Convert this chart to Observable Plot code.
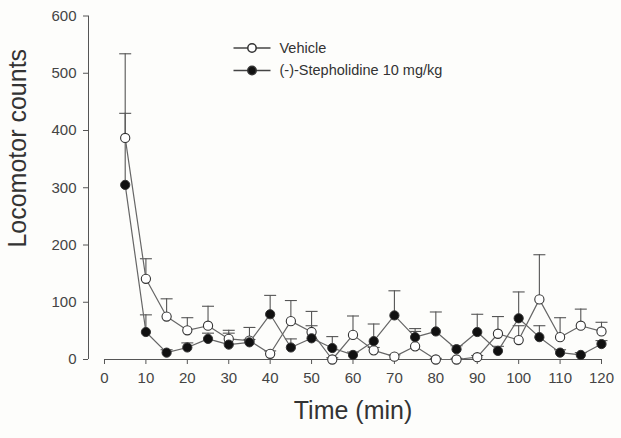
<!DOCTYPE html>
<html><head><meta charset="utf-8">
<script src="https://cdn.jsdelivr.net/npm/d3@7"></script>
<script src="https://cdn.jsdelivr.net/npm/@observablehq/plot@0.6"></script>
<style>body{margin:0;background:#fdfdfb;} #chart svg{display:block;}</style>
</head><body><div id="chart"></div>
<script>
const time = [5,10,15,20,25,30,35,40,45,50,55,60,65,70,75,80,85,90,95,100,105,110,115,120];
const vehicle = [387,141,75,51,59,36,33,10,67,48,0,43,16,5,23,0,0,4,45,34,105,39,59,49];
const vehicleSem = [147,35,31,22,34,15,23,5,36,36,3,33,5,3,26,2,2,3,30,25,78,34,29,16];
const stepholidine = [305,48,12,21,36,26,30,79,21,37,20,8,32,77,39,49,18,48,15,72,39,12,8,27];
const stepholidineSem = [125,30,5,8,10,20,5,33,15,22,20,5,30,43,15,34,6,31,8,46,20,5,4,6];
const seriesNames = ["Vehicle", "(-)-Stepholidine 10 mg/kg"];
const xTicks = [0,10,20,30,40,50,60,70,80,90,100,110,120];
const yTicks = [0,100,200,300,400,500,600];
const xStart = -3.86;

const vRows = time.map((t,i)=>({t, v: vehicle[i], s: vehicleSem[i]}));
const sRows = time.map((t,i)=>({t, v: stepholidine[i], s: stepholidineSem[i]}));
const hline = w => ({draw(ctx){ ctx.moveTo(-w,0); ctx.lineTo(w,0); }});

const lineColor = "#666";
const errColor = "#555";
const mk = rows => [
  Plot.ruleX(rows, {x: "t", y1: "v", y2: d => d.v + d.s, stroke: errColor, strokeWidth: 1.1}),
  Plot.dot(rows, {x: "t", y: d => d.v + d.s, symbol: hline(6), stroke: errColor, strokeWidth: 1.1, fill: "none", r: 5})
];

const chart = Plot.plot({
  width: 621, height: 438,
  marginLeft: 88, marginRight: 20, marginTop: 15.5, marginBottom: 79,
  style: {fontFamily: "'Liberation Sans', Arial, sans-serif", background: "transparent"},
  x: {domain: [xStart, 120]},
  y: {domain: [0, 600]},
  marks: [
    Plot.axisY({ticks: yTicks, tickSize: 5, tickPadding: 7, fontSize: 15, label: null, stroke: "#555", fill: "#444"}),
    Plot.ruleX([xStart], {y1: 0, y2: 600, stroke: "#555"}),
    Plot.axisX({ticks: xTicks, tickSize: 5, tickPadding: 8, fontSize: 15, label: null, stroke: "#555", fill: "#444"}),
    Plot.ruleY([0], {x1: 0, x2: 120, stroke: "#555"}),
    Plot.text(["Time (min)"], {frameAnchor: "bottom", lineAnchor: "middle", dx: 8, dy: 51, fontSize: 25, fill: "#333"}),
    Plot.text(["Locomotor counts"], {frameAnchor: "left", textAnchor: "middle", lineAnchor: "middle", rotate: -90, dx: -71, dy: -39.5, fontSize: 25, fill: "#333"}),
    ...mk(vRows), ...mk(sRows),
    Plot.line(vRows, {x: "t", y: "v", stroke: lineColor, strokeWidth: 1.2}),
    Plot.line(sRows, {x: "t", y: "v", stroke: lineColor, strokeWidth: 1.2}),
    Plot.dot(vRows, {x: "t", y: "v", r: 4.6, fill: "white", stroke: "#333", strokeWidth: 1.1}),
    Plot.dot(sRows, {x: "t", y: "v", r: 4.6, fill: "#111", stroke: "#333", strokeWidth: 1}),
    // legend
    Plot.dot([seriesNames[0]], {frameAnchor: "top-left", dx: 163.5, dy: 32, symbol: hline(18.5), stroke: "#444", fill: "none"}),
    Plot.dot([seriesNames[0]], {frameAnchor: "top-left", dx: 163.5, dy: 32, r: 4.2, fill: "white", stroke: "#333"}),
    Plot.text([seriesNames[0]], {frameAnchor: "top-left", dx: 191, dy: 32, textAnchor: "start", lineAnchor: "middle", fontSize: 14.5, fill: "#333"}),
    Plot.dot([seriesNames[1]], {frameAnchor: "top-left", dx: 163.5, dy: 54.5, symbol: hline(18.5), stroke: "#444", fill: "none"}),
    Plot.dot([seriesNames[1]], {frameAnchor: "top-left", dx: 163.5, dy: 54.5, r: 4.2, fill: "#111", stroke: "#333"}),
    Plot.text([seriesNames[1]], {frameAnchor: "top-left", dx: 191, dy: 54.5, textAnchor: "start", lineAnchor: "middle", fontSize: 14.5, fill: "#333"})
  ]
});
document.getElementById("chart").append(chart);
</script></body></html>
